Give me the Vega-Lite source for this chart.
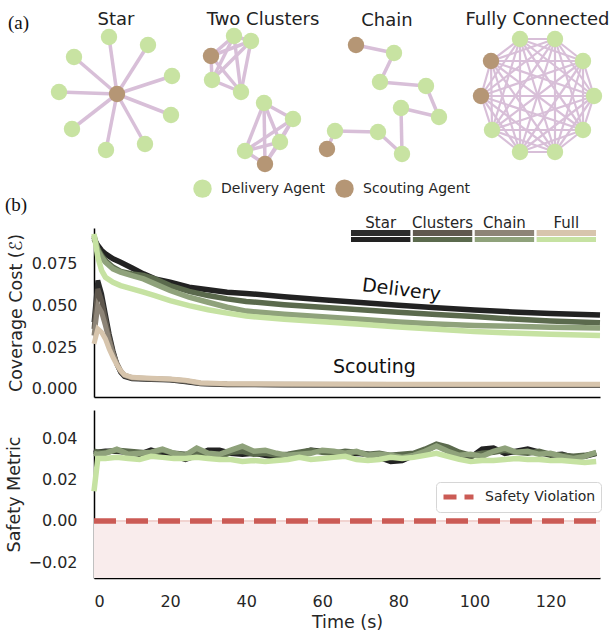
{
  "$schema": "https://vega.github.io/schema/vega-lite/v6.json",
  "padding": {"left": 5, "top": 0, "right": 6, "bottom": 4},
  "bounds": "flush",
  "spacing": 13,
  "config": {
    "font": "DejaVu Sans",
    "view": {"stroke": null},
    "axis": {"domainColor": "#000000", "domainWidth": 1.5, "ticks": false, "grid": false, "labelFontSize": 16, "labelColor": "#262626", "titleFontSize": 17.5, "titleFontWeight": "normal", "titleColor": "#262626"},
    "legend": {"padding": 0}
  },
  "resolve": {"scale": {"x": "independent", "y": "independent", "color": "independent", "stroke": "independent", "fill": "independent"}, "legend": {"color": "independent", "stroke": "independent"}},
  "datasets": {
    "nodes": [
      {"id": "S0", "role": "Scouting Agent", "gx": 119, "gy": 94},
      {"id": "S1", "role": "Delivery Agent", "gx": 111, "gy": 37},
      {"id": "S2", "role": "Delivery Agent", "gx": 150, "gy": 45},
      {"id": "S3", "role": "Delivery Agent", "gx": 76, "gy": 57},
      {"id": "S4", "role": "Delivery Agent", "gx": 174, "gy": 76},
      {"id": "S5", "role": "Delivery Agent", "gx": 61, "gy": 92},
      {"id": "S6", "role": "Delivery Agent", "gx": 173, "gy": 115},
      {"id": "S7", "role": "Delivery Agent", "gx": 74, "gy": 129},
      {"id": "S8", "role": "Delivery Agent", "gx": 147, "gy": 144},
      {"id": "S9", "role": "Delivery Agent", "gx": 108, "gy": 150},
      {"id": "T0", "role": "Delivery Agent", "gx": 236, "gy": 36},
      {"id": "T1", "role": "Delivery Agent", "gx": 253, "gy": 41},
      {"id": "T2", "role": "Scouting Agent", "gx": 213, "gy": 56},
      {"id": "T3", "role": "Delivery Agent", "gx": 214, "gy": 80},
      {"id": "T4", "role": "Delivery Agent", "gx": 243, "gy": 92},
      {"id": "T5", "role": "Delivery Agent", "gx": 266, "gy": 103},
      {"id": "T6", "role": "Delivery Agent", "gx": 295, "gy": 119},
      {"id": "T7", "role": "Delivery Agent", "gx": 282, "gy": 142},
      {"id": "T8", "role": "Delivery Agent", "gx": 247, "gy": 151},
      {"id": "T9", "role": "Scouting Agent", "gx": 267, "gy": 164},
      {"id": "C0", "role": "Scouting Agent", "gx": 358, "gy": 45},
      {"id": "C1", "role": "Delivery Agent", "gx": 396, "gy": 53},
      {"id": "C2", "role": "Delivery Agent", "gx": 382, "gy": 82},
      {"id": "C3", "role": "Delivery Agent", "gx": 428, "gy": 86},
      {"id": "C4", "role": "Delivery Agent", "gx": 441, "gy": 117},
      {"id": "C5", "role": "Delivery Agent", "gx": 403, "gy": 108},
      {"id": "C6", "role": "Delivery Agent", "gx": 404, "gy": 154},
      {"id": "C7", "role": "Delivery Agent", "gx": 380, "gy": 132},
      {"id": "C8", "role": "Delivery Agent", "gx": 337, "gy": 131},
      {"id": "C9", "role": "Scouting Agent", "gx": 329, "gy": 149},
      {"id": "F0", "role": "Delivery Agent", "gx": 522, "gy": 39},
      {"id": "F1", "role": "Delivery Agent", "gx": 557, "gy": 39},
      {"id": "F2", "role": "Delivery Agent", "gx": 585, "gy": 61},
      {"id": "F3", "role": "Delivery Agent", "gx": 596, "gy": 96},
      {"id": "F4", "role": "Delivery Agent", "gx": 585, "gy": 130},
      {"id": "F5", "role": "Delivery Agent", "gx": 557, "gy": 152},
      {"id": "F6", "role": "Delivery Agent", "gx": 522, "gy": 152},
      {"id": "F7", "role": "Delivery Agent", "gx": 494, "gy": 130},
      {"id": "F8", "role": "Scouting Agent", "gx": 483, "gy": 96},
      {"id": "F9", "role": "Scouting Agent", "gx": 493, "gy": 61}
    ],
    "edges": [
      {"a": "S0", "b": ["S1", "S2", "S3", "S4", "S5", "S6", "S7", "S8", "S9"]},
      {"a": "T0", "b": ["T1", "T2", "T3", "T4"]},
      {"a": "T1", "b": ["T2", "T3", "T4"]},
      {"a": "T2", "b": ["T3", "T4"]},
      {"a": "T3", "b": ["T4"]},
      {"a": "T5", "b": ["T6", "T7", "T8", "T9"]},
      {"a": "T6", "b": ["T7", "T8", "T9"]},
      {"a": "T7", "b": ["T8", "T9"]},
      {"a": "T8", "b": ["T9"]},
      {"a": "C0", "b": ["C1"]},
      {"a": "C1", "b": ["C2"]},
      {"a": "C2", "b": ["C3"]},
      {"a": "C3", "b": ["C4"]},
      {"a": "C4", "b": ["C5"]},
      {"a": "C5", "b": ["C6"]},
      {"a": "C6", "b": ["C7"]},
      {"a": "C7", "b": ["C8"]},
      {"a": "C8", "b": ["C9"]},
      {"a": "F0", "b": ["F1", "F2", "F3", "F4", "F5", "F6", "F7", "F8", "F9"]},
      {"a": "F1", "b": ["F2", "F3", "F4", "F5", "F6", "F7", "F8", "F9"]},
      {"a": "F2", "b": ["F3", "F4", "F5", "F6", "F7", "F8", "F9"]},
      {"a": "F3", "b": ["F4", "F5", "F6", "F7", "F8", "F9"]},
      {"a": "F4", "b": ["F5", "F6", "F7", "F8", "F9"]},
      {"a": "F5", "b": ["F6", "F7", "F8", "F9"]},
      {"a": "F6", "b": ["F7", "F8", "F9"]},
      {"a": "F7", "b": ["F8", "F9"]},
      {"a": "F8", "b": ["F9"]}
    ],
    "topologies": [
      {"topology": "Star"},
      {"topology": "Clusters"},
      {"topology": "Chain"},
      {"topology": "Full"}
    ],
    "delivery": [
      {"t": 0, "Star": 0.090, "Clusters": 0.091, "Chain": 0.092, "Full": 0.093},
      {"t": 1, "Star": 0.086, "Clusters": 0.084, "Chain": 0.083, "Full": 0.079},
      {"t": 2, "Star": 0.083, "Clusters": 0.080, "Chain": 0.079, "Full": 0.071},
      {"t": 3, "Star": 0.081, "Clusters": 0.077, "Chain": 0.076, "Full": 0.067},
      {"t": 5, "Star": 0.078, "Clusters": 0.073, "Chain": 0.072, "Full": 0.064},
      {"t": 7, "Star": 0.076, "Clusters": 0.0705, "Chain": 0.070, "Full": 0.062},
      {"t": 10, "Star": 0.0725, "Clusters": 0.069, "Chain": 0.068, "Full": 0.060},
      {"t": 13, "Star": 0.069, "Clusters": 0.068, "Chain": 0.066, "Full": 0.058},
      {"t": 16, "Star": 0.066, "Clusters": 0.066, "Chain": 0.063, "Full": 0.056},
      {"t": 20, "Star": 0.064, "Clusters": 0.062, "Chain": 0.059, "Full": 0.053},
      {"t": 25, "Star": 0.061, "Clusters": 0.0585, "Chain": 0.055, "Full": 0.050},
      {"t": 30, "Star": 0.0595, "Clusters": 0.056, "Chain": 0.052, "Full": 0.0475},
      {"t": 35, "Star": 0.058, "Clusters": 0.054, "Chain": 0.049, "Full": 0.0455},
      {"t": 40, "Star": 0.0573, "Clusters": 0.0525, "Chain": 0.0467, "Full": 0.0437},
      {"t": 50, "Star": 0.0553, "Clusters": 0.0505, "Chain": 0.0448, "Full": 0.0418},
      {"t": 60, "Star": 0.0535, "Clusters": 0.049, "Chain": 0.0433, "Full": 0.0403},
      {"t": 70, "Star": 0.0518, "Clusters": 0.0475, "Chain": 0.0418, "Full": 0.0388},
      {"t": 80, "Star": 0.0502, "Clusters": 0.046, "Chain": 0.0402, "Full": 0.0372},
      {"t": 90, "Star": 0.0487, "Clusters": 0.0447, "Chain": 0.0389, "Full": 0.0358},
      {"t": 100, "Star": 0.0473, "Clusters": 0.0434, "Chain": 0.0381, "Full": 0.0345},
      {"t": 110, "Star": 0.0462, "Clusters": 0.0419, "Chain": 0.0376, "Full": 0.0335},
      {"t": 120, "Star": 0.0452, "Clusters": 0.0407, "Chain": 0.037, "Full": 0.0328},
      {"t": 133, "Star": 0.0443, "Clusters": 0.0397, "Chain": 0.0366, "Full": 0.032}
    ],
    "scouting": [
      {"t": 0, "Star": 0.040, "Clusters": 0.036, "Chain": 0.032, "Full": 0.027},
      {"t": 1, "Star": 0.065, "Clusters": 0.060, "Chain": 0.050, "Full": 0.036},
      {"t": 2, "Star": 0.057, "Clusters": 0.053, "Chain": 0.046, "Full": 0.034},
      {"t": 3, "Star": 0.045, "Clusters": 0.042, "Chain": 0.038, "Full": 0.030},
      {"t": 4, "Star": 0.033, "Clusters": 0.031, "Chain": 0.029, "Full": 0.024},
      {"t": 5, "Star": 0.023, "Clusters": 0.022, "Chain": 0.021, "Full": 0.019},
      {"t": 6, "Star": 0.015, "Clusters": 0.015, "Chain": 0.0155, "Full": 0.0145},
      {"t": 7, "Star": 0.010, "Clusters": 0.0105, "Chain": 0.011, "Full": 0.011},
      {"t": 8, "Star": 0.0075, "Clusters": 0.008, "Chain": 0.0083, "Full": 0.0085},
      {"t": 10, "Star": 0.0062, "Clusters": 0.0065, "Chain": 0.0068, "Full": 0.007},
      {"t": 15, "Star": 0.0057, "Clusters": 0.006, "Chain": 0.0062, "Full": 0.0065},
      {"t": 20, "Star": 0.0054, "Clusters": 0.0056, "Chain": 0.0058, "Full": 0.006},
      {"t": 24, "Star": 0.0044, "Clusters": 0.0047, "Chain": 0.005, "Full": 0.0052},
      {"t": 28, "Star": 0.0031, "Clusters": 0.0033, "Chain": 0.0035, "Full": 0.0037},
      {"t": 35, "Star": 0.0026, "Clusters": 0.0028, "Chain": 0.003, "Full": 0.0032},
      {"t": 50, "Star": 0.0024, "Clusters": 0.0026, "Chain": 0.0028, "Full": 0.003},
      {"t": 80, "Star": 0.0023, "Clusters": 0.0025, "Chain": 0.0027, "Full": 0.0029},
      {"t": 110, "Star": 0.0022, "Clusters": 0.0024, "Chain": 0.0026, "Full": 0.0028},
      {"t": 133, "Star": 0.0022, "Clusters": 0.0024, "Chain": 0.0026, "Full": 0.0028}
    ],
    "safety": [
      {"t": 0, "Star": 0.033, "Clusters": 0.034, "Chain": 0.033, "Full": 0.0145},
      {"t": 1, "Star": 0.0335, "Clusters": 0.0335, "Chain": 0.0325, "Full": 0.0305},
      {"t": 3, "Star": 0.034, "Clusters": 0.0335, "Chain": 0.033, "Full": 0.0305},
      {"t": 6, "Star": 0.034, "Clusters": 0.0345, "Chain": 0.035, "Full": 0.031},
      {"t": 9, "Star": 0.0335, "Clusters": 0.034, "Chain": 0.0325, "Full": 0.0305},
      {"t": 12, "Star": 0.0325, "Clusters": 0.0335, "Chain": 0.033, "Full": 0.030},
      {"t": 15, "Star": 0.0345, "Clusters": 0.033, "Chain": 0.0335, "Full": 0.0315},
      {"t": 18, "Star": 0.033, "Clusters": 0.0345, "Chain": 0.035, "Full": 0.031},
      {"t": 21, "Star": 0.032, "Clusters": 0.033, "Chain": 0.033, "Full": 0.0305},
      {"t": 24, "Star": 0.030, "Clusters": 0.0325, "Chain": 0.032, "Full": 0.0305},
      {"t": 27, "Star": 0.032, "Clusters": 0.033, "Chain": 0.0355, "Full": 0.031},
      {"t": 30, "Star": 0.0345, "Clusters": 0.032, "Chain": 0.033, "Full": 0.0305},
      {"t": 33, "Star": 0.0345, "Clusters": 0.031, "Chain": 0.0325, "Full": 0.030},
      {"t": 36, "Star": 0.033, "Clusters": 0.0335, "Chain": 0.0345, "Full": 0.030},
      {"t": 39, "Star": 0.0325, "Clusters": 0.034, "Chain": 0.0365, "Full": 0.029},
      {"t": 42, "Star": 0.033, "Clusters": 0.0325, "Chain": 0.034, "Full": 0.0295},
      {"t": 45, "Star": 0.032, "Clusters": 0.033, "Chain": 0.0345, "Full": 0.029},
      {"t": 48, "Star": 0.031, "Clusters": 0.032, "Chain": 0.033, "Full": 0.0295},
      {"t": 51, "Star": 0.0315, "Clusters": 0.0325, "Chain": 0.032, "Full": 0.030},
      {"t": 54, "Star": 0.033, "Clusters": 0.0335, "Chain": 0.0325, "Full": 0.031},
      {"t": 57, "Star": 0.0345, "Clusters": 0.0345, "Chain": 0.033, "Full": 0.030},
      {"t": 60, "Star": 0.034, "Clusters": 0.0335, "Chain": 0.0345, "Full": 0.0305},
      {"t": 63, "Star": 0.033, "Clusters": 0.033, "Chain": 0.034, "Full": 0.031},
      {"t": 66, "Star": 0.032, "Clusters": 0.034, "Chain": 0.033, "Full": 0.0315},
      {"t": 69, "Star": 0.033, "Clusters": 0.0335, "Chain": 0.034, "Full": 0.030},
      {"t": 72, "Star": 0.0325, "Clusters": 0.0325, "Chain": 0.032, "Full": 0.0295},
      {"t": 75, "Star": 0.031, "Clusters": 0.033, "Chain": 0.0325, "Full": 0.030},
      {"t": 78, "Star": 0.029, "Clusters": 0.032, "Chain": 0.032, "Full": 0.031},
      {"t": 81, "Star": 0.0295, "Clusters": 0.0325, "Chain": 0.031, "Full": 0.0305},
      {"t": 84, "Star": 0.032, "Clusters": 0.033, "Chain": 0.032, "Full": 0.031},
      {"t": 87, "Star": 0.034, "Clusters": 0.035, "Chain": 0.034, "Full": 0.032},
      {"t": 90, "Star": 0.037, "Clusters": 0.0375, "Chain": 0.0365, "Full": 0.033},
      {"t": 93, "Star": 0.035, "Clusters": 0.036, "Chain": 0.034, "Full": 0.0315},
      {"t": 96, "Star": 0.032, "Clusters": 0.0335, "Chain": 0.032, "Full": 0.030},
      {"t": 99, "Star": 0.031, "Clusters": 0.032, "Chain": 0.0325, "Full": 0.029},
      {"t": 102, "Star": 0.035, "Clusters": 0.033, "Chain": 0.0315, "Full": 0.0295},
      {"t": 105, "Star": 0.0355, "Clusters": 0.0335, "Chain": 0.034, "Full": 0.0295},
      {"t": 108, "Star": 0.033, "Clusters": 0.0345, "Chain": 0.0355, "Full": 0.030},
      {"t": 111, "Star": 0.034, "Clusters": 0.0335, "Chain": 0.0335, "Full": 0.0305},
      {"t": 114, "Star": 0.035, "Clusters": 0.033, "Chain": 0.034, "Full": 0.030},
      {"t": 117, "Star": 0.0335, "Clusters": 0.034, "Chain": 0.0325, "Full": 0.030},
      {"t": 120, "Star": 0.032, "Clusters": 0.0325, "Chain": 0.033, "Full": 0.0295},
      {"t": 123, "Star": 0.0325, "Clusters": 0.032, "Chain": 0.0315, "Full": 0.0295},
      {"t": 126, "Star": 0.031, "Clusters": 0.0315, "Chain": 0.0305, "Full": 0.029},
      {"t": 129, "Star": 0.0315, "Clusters": 0.032, "Chain": 0.0315, "Full": 0.0285},
      {"t": 132, "Star": 0.033, "Clusters": 0.033, "Chain": 0.0335, "Full": 0.029}
    ]
  },
  "vconcat": [
    {
      "width": 506,
      "height": 215,
      "layer": [
        {
          "data": {"name": "edges"},
          "transform": [
            {"flatten": ["b"]},
            {"lookup": "a", "from": {"data": {"name": "nodes"}, "key": "id", "fields": ["gx", "gy"]}, "as": ["ax", "ay"]},
            {"lookup": "b", "from": {"data": {"name": "nodes"}, "key": "id", "fields": ["gx", "gy"]}, "as": ["bx", "by"]},
            {"filter": "indexof(datum.a, 'F') !== 0"}
          ],
          "mark": {"type": "rule", "color": "#d8bfd8", "strokeWidth": 3.5},
          "encoding": {
            "x": {"field": "ax", "type": "quantitative", "scale": {"domain": [96, 602], "nice": false, "zero": false}, "axis": null},
            "y": {"field": "ay", "type": "quantitative", "scale": {"domain": [0, 215], "reverse": true, "nice": false, "zero": false}, "axis": null},
            "x2": {"field": "bx"},
            "y2": {"field": "by"}
          }
        },
        {
          "data": {"name": "edges"},
          "transform": [
            {"flatten": ["b"]},
            {"lookup": "a", "from": {"data": {"name": "nodes"}, "key": "id", "fields": ["gx", "gy"]}, "as": ["ax", "ay"]},
            {"lookup": "b", "from": {"data": {"name": "nodes"}, "key": "id", "fields": ["gx", "gy"]}, "as": ["bx", "by"]},
            {"filter": "indexof(datum.a, 'F') === 0"}
          ],
          "mark": {"type": "rule", "color": "#d8bfd8", "strokeWidth": 2.2},
          "encoding": {
            "x": {"field": "ax", "type": "quantitative", "scale": {"domain": [96, 602], "nice": false, "zero": false}, "axis": null},
            "y": {"field": "ay", "type": "quantitative", "scale": {"domain": [0, 215], "reverse": true, "nice": false, "zero": false}, "axis": null},
            "x2": {"field": "bx"},
            "y2": {"field": "by"}
          }
        },
        {
          "data": {"name": "nodes"},
          "mark": {"type": "point", "filled": true, "opacity": 1, "size": 270, "shape": "circle", "strokeWidth": 0},
          "encoding": {
            "x": {"field": "gx", "type": "quantitative", "scale": {"domain": [96, 602], "nice": false, "zero": false}, "axis": null},
            "y": {"field": "gy", "type": "quantitative", "scale": {"domain": [0, 215], "reverse": true, "nice": false, "zero": false}, "axis": null},
            "color": {
              "field": "role", "type": "nominal",
              "scale": {"domain": ["Delivery Agent", "Scouting Agent"], "range": ["#c8e3a2", "#b59675"]},
              "legend": {"orient": "none", "legendX": 99, "legendY": 179, "direction": "horizontal", "title": null, "symbolSize": 340, "symbolType": "circle", "symbolOpacity": 1, "symbolStrokeWidth": 0, "labelFontSize": 14, "labelColor": "#262626", "labelOffset": 9, "columnPadding": 9, "padding": 0}
            }
          }
        },
        {
          "data": {"values": [{}]},
          "mark": {"type": "text", "text": "Star", "fontSize": 18, "align": "center", "baseline": "alphabetic", "color": "#222222"},
          "encoding": {"x": {"datum": 118, "type": "quantitative"}, "y": {"datum": 24.5, "type": "quantitative"}}
        },
        {
          "data": {"values": [{}]},
          "mark": {"type": "text", "text": "Two Clusters", "fontSize": 18, "align": "center", "baseline": "alphabetic", "color": "#222222"},
          "encoding": {"x": {"datum": 265, "type": "quantitative"}, "y": {"datum": 24.5, "type": "quantitative"}}
        },
        {
          "data": {"values": [{}]},
          "mark": {"type": "text", "text": "Chain", "fontSize": 18, "align": "center", "baseline": "alphabetic", "color": "#222222"},
          "encoding": {"x": {"datum": 389, "type": "quantitative"}, "y": {"datum": 25.5, "type": "quantitative"}}
        },
        {
          "data": {"values": [{}]},
          "mark": {"type": "text", "text": "Fully Connected", "fontSize": 18, "align": "center", "baseline": "alphabetic", "color": "#222222"},
          "encoding": {"x": {"datum": 539.5, "type": "quantitative"}, "y": {"datum": 24.5, "type": "quantitative"}}
        },
        {
          "data": {"values": [{}]},
          "mark": {"type": "text", "text": "(a)", "font": "Liberation Serif", "fontSize": 19, "align": "left", "baseline": "alphabetic", "color": "#111111"},
          "encoding": {"x": {"datum": 10, "type": "quantitative"}, "y": {"datum": 29, "type": "quantitative"}}
        },
        {
          "data": {"values": [{}]},
          "mark": {"type": "text", "text": "(b)", "font": "Liberation Serif", "fontSize": 19, "align": "left", "baseline": "alphabetic", "color": "#111111"},
          "encoding": {"x": {"datum": 7, "type": "quantitative"}, "y": {"datum": 211, "type": "quantitative"}}
        }
      ]
    },
    {
      "width": 506,
      "height": 169,
      "resolve": {"scale": {"x": "independent"}, "axis": {"x": "independent"}},
      "layer": [
        {
          "layer": [
            {
              "data": {"name": "scouting"},
              "transform": [{"fold": ["Star", "Clusters", "Chain", "Full"], "as": ["topology", "cost"]}],
              "mark": {"type": "line", "strokeWidth": 5},
              "encoding": {
                "x": {"field": "t", "type": "quantitative", "scale": {"domain": [0, 133], "nice": false, "zero": false}, "axis": {"labels": false, "title": null}},
                "y": {"field": "cost", "type": "quantitative", "scale": {"domain": [-0.0048, 0.0965], "nice": false, "zero": false}, "axis": {"values": [0, 0.025, 0.05, 0.075], "format": ".3f", "title": "Coverage Cost (ℰ)", "labelPadding": 17, "titlePadding": 6}},
                "stroke": {"field": "topology", "type": "nominal", "scale": {"domain": ["Star", "Clusters", "Chain", "Full"], "range": ["#2b2b2b", "#5f584e", "#8d8477", "#d7c5ad"]}, "legend": null}
              }
            },
            {
              "data": {"name": "delivery"},
              "transform": [{"fold": ["Star", "Clusters", "Chain", "Full"], "as": ["topology", "cost"]}],
              "mark": {"type": "line", "strokeWidth": 5.5},
              "encoding": {
                "x": {"field": "t", "type": "quantitative", "scale": {"domain": [0, 133], "nice": false, "zero": false}, "axis": {"labels": false, "title": null}},
                "y": {"field": "cost", "type": "quantitative", "scale": {"domain": [-0.0048, 0.0965], "nice": false, "zero": false}},
                "color": {"field": "topology", "type": "nominal", "scale": {"domain": ["Star", "Clusters", "Chain", "Full"], "range": ["#222222", "#5b6a4d", "#8fa27b", "#c6e2a2"]}, "legend": null}
              }
            },
            {
              "data": {"values": [{}]},
              "mark": {"type": "text", "text": "Delivery", "fontSize": 19, "angle": 7, "align": "center", "baseline": "middle", "color": "#111111"},
              "encoding": {"x": {"datum": 80.8, "type": "quantitative"}, "y": {"datum": 0.0594, "type": "quantitative"}}
            },
            {
              "data": {"values": [{}]},
              "mark": {"type": "text", "text": "Scouting", "fontSize": 19, "align": "center", "baseline": "middle", "color": "#111111"},
              "encoding": {"x": {"datum": 73.7, "type": "quantitative"}, "y": {"datum": 0.0132, "type": "quantitative"}}
            }
          ]
        },
        {
          "data": {"name": "topologies"},
          "layer": [
            {
              "mark": {"type": "rect"},
              "encoding": {
                "x": {"field": "topology", "type": "nominal", "sort": null, "scale": {"type": "band", "domain": ["Star", "Clusters", "Chain", "Full"], "range": [257, 502], "paddingInner": 0.04, "paddingOuter": 0}, "axis": null},
                "y": {"datum": 0.0953, "type": "quantitative", "scale": {"domain": [-0.0048, 0.0965], "nice": false, "zero": false}},
                "y2": {"datum": 0.0917},
                "fill": {"field": "topology", "type": "nominal", "scale": {"domain": ["Star", "Clusters", "Chain", "Full"], "range": ["#2b2b2b", "#5f584e", "#8d8477", "#d7c5ad"]}, "legend": null}
              }
            },
            {
              "mark": {"type": "rect"},
              "encoding": {
                "x": {"field": "topology", "type": "nominal", "sort": null, "scale": {"type": "band", "domain": ["Star", "Clusters", "Chain", "Full"], "range": [257, 502], "paddingInner": 0.04, "paddingOuter": 0}, "axis": null},
                "y": {"datum": 0.0911, "type": "quantitative", "scale": {"domain": [-0.0048, 0.0965], "nice": false, "zero": false}},
                "y2": {"datum": 0.0881},
                "color": {"field": "topology", "type": "nominal", "scale": {"domain": ["Star", "Clusters", "Chain", "Full"], "range": ["#222222", "#5b6a4d", "#8fa27b", "#c6e2a2"]}, "legend": null}
              }
            },
            {
              "mark": {"type": "text", "fontSize": 15, "align": "center", "baseline": "middle", "color": "#262626"},
              "encoding": {
                "x": {"field": "topology", "type": "nominal", "sort": null, "scale": {"type": "band", "domain": ["Star", "Clusters", "Chain", "Full"], "range": [257, 502], "paddingInner": 0.04, "paddingOuter": 0}, "axis": null},
                "y": {"datum": 0.0995, "type": "quantitative", "scale": {"domain": [-0.0048, 0.0965], "nice": false, "zero": false}},
                "text": {"field": "topology"}
              }
            }
          ]
        }
      ]
    },
    {
      "width": 506,
      "height": 168,
      "layer": [
        {
          "data": {"values": [{}]},
          "mark": {"type": "rect", "color": "#f9ecec"},
          "encoding": {
            "x": {"datum": 0, "type": "quantitative", "scale": {"domain": [0, 133], "nice": false, "zero": false}, "axis": {"values": [0, 20, 40, 60, 80, 100, 120], "title": "Time (s)", "labelPadding": 15, "titlePadding": 4}},
            "x2": {"datum": 133},
            "y": {"datum": 0, "type": "quantitative", "scale": {"domain": [-0.0278, 0.0541], "nice": false, "zero": false}, "axis": {"values": [-0.02, 0, 0.02, 0.04], "format": ".2f", "title": "Safety Metric", "labelPadding": 17, "titlePadding": 4}},
            "y2": {"datum": -0.0278}
          }
        },
        {
          "data": {"values": [{}]},
          "mark": {"type": "rule", "color": "#f1d3d0", "strokeWidth": 2},
          "encoding": {"x": {"datum": 0, "type": "quantitative"}, "x2": {"datum": 133}, "y": {"datum": 0, "type": "quantitative"}}
        },
        {
          "data": {"values": [{}]},
          "mark": {"type": "rule", "strokeWidth": 5.5, "strokeDash": [22, 10]},
          "encoding": {
            "x": {"datum": 0, "type": "quantitative"}, "x2": {"datum": 133}, "y": {"datum": 0, "type": "quantitative"},
            "stroke": {"datum": "Safety Violation", "type": "nominal", "scale": {"range": ["#cb5b55"]},
              "legend": {"orient": "none", "legendX": 342, "legendY": 72, "title": null, "symbolType": "M-1,0H3", "symbolSize": 225, "symbolStrokeWidth": 5, "symbolDash": [13, 8], "symbolFillColor": "transparent", "labelOffset": 24, "labelFontSize": 14, "labelColor": "#262626", "padding": 5, "strokeColor": "#d6d6d6", "fillColor": "#ffffff", "cornerRadius": 4}}
          }
        },
        {
          "data": {"name": "safety"},
          "transform": [{"fold": ["Star", "Clusters", "Chain", "Full"], "as": ["topology", "metric"]}],
          "mark": {"type": "line", "strokeWidth": 5.5},
          "encoding": {
            "x": {"field": "t", "type": "quantitative"},
            "y": {"field": "metric", "type": "quantitative"},
            "color": {"field": "topology", "type": "nominal", "scale": {"domain": ["Star", "Clusters", "Chain", "Full"], "range": ["#222222", "#5b6a4d", "#8fa27b", "#c6e2a2"]}, "legend": null}
          }
        }
      ]
    }
  ]
}
